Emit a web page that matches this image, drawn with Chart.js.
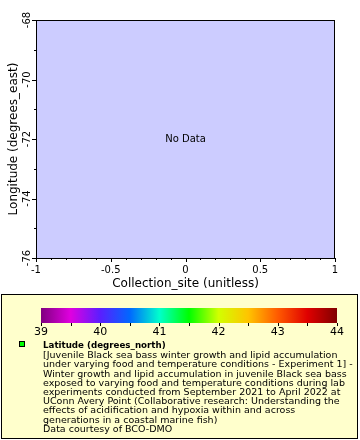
<!DOCTYPE html>
<html>
<head>
<meta charset="utf-8">
<script src="https://cdn.jsdelivr.net/npm/chart.js@4"></script>
<style>
  body { margin: 0; background: #fff; }
  #wrap { position: relative; width: 360px; height: 440px; overflow: hidden; }
  #main { position: absolute; left: 0; top: 0; }
  #legend {
    position: absolute; left: 1px; top: 294px; width: 357px; height: 145px;
    background: #ffffcc; border: 1px solid #000; box-sizing: border-box;
  }
  #cbar { position: absolute; left: -2px; top: 8px; }
  #swatch {
    position: absolute; left: 17px; top: 46px; width: 4px; height: 4px;
    background: #00ff00; border: 1px solid #000;
  }
  #ltext {
    position: absolute; left: 41px; top: 45px; margin: 0;
    font-family: "DejaVu Sans"; font-size: 9.5px; line-height: 9.2px;
    white-space: pre; color: #000;
  }
  #ltext b { font-weight: bold; font-size: 8.7px; }
</style>
</head>
<body>
<div id="wrap">
  <canvas id="main" width="360" height="295"></canvas>
  <div id="legend">
    <canvas id="cbar" width="360" height="46"></canvas>
    <div id="swatch"></div>
    <div id="ltext"></div>
  </div>
</div>
<script>
// axis ranges and ticks
const xRange = [-1, 1];
const xMajor = [-1, -0.5, 0, 0.5, 1];
const xMinorStep = 0.1;
const yRange = [-76, -68];
const yMajor = [-76, -74, -72, -70, -68];
const yMinorStep = 1;

// colour bar (Latitude, degrees_north)
const cbRange = [39, 44];
const cbTicks = [39, 40, 41, 42, 43, 44];
const cbStops = [39, 39.5, 40, 40.5, 41, 41.5, 42, 42.5, 43, 43.5, 44];
const cbColors = ['#800080', '#e000e0', '#5a1eff', '#0068ff', '#00ffcc', '#00ff00',
                  '#d2ff00', '#ffc400', '#ff5a00', '#e00000', '#800000'];

// no points in this dataset
const pts = [];

const legendLines = [
  '[Juvenile Black sea bass winter growth and lipid accumulation',
  'under varying food and temperature conditions - Experiment 1] -',
  'Winter growth and lipid accumulation in juvenile Black sea bass',
  'exposed to varying food and temperature conditions during lab',
  'experiments conducted from September 2021 to April 2022 at',
  'UConn Avery Point (Collaborative research: Understanding the',
  'effects of acidification and hypoxia within and across',
  'generations in a coastal marine fish)',
  'Data courtesy of BCO-DMO'
];

const lt = document.getElementById('ltext');
lt.innerHTML = '<b>Latitude (degrees_north)</b>\n' + legendLines.join('\n');

function range(a, b, step) {
  const out = [];
  for (let v = a; v <= b + 1e-9; v += step) out.push(+v.toFixed(6));
  return out;
}

const font = { family: 'DejaVu Sans', size: 10 };

const plotDeco = {
  id: 'plotDeco',
  beforeDraw(chart) {
    const { ctx, chartArea: a } = chart;
    ctx.save();
    ctx.fillStyle = '#ccccff';
    ctx.fillRect(a.left, a.top, a.right - a.left, a.bottom - a.top);
    ctx.restore();
  },
  afterDraw(chart) {
    const { ctx, chartArea: a, scales } = chart;
    ctx.save();
    ctx.strokeStyle = '#000';
    ctx.lineWidth = 1;
    ctx.strokeRect(a.left + 0.5, a.top + 0.5, a.right - a.left - 1, a.bottom - a.top);
    ctx.beginPath();
    range(xRange[0], xRange[1], xMinorStep).forEach(v => {
      const x = Math.round(scales.x.getPixelForValue(v)) + 0.5;
      ctx.moveTo(x, a.bottom); ctx.lineTo(x, a.bottom + 2);
    });
    xMajor.forEach(v => {
      const x = Math.round(scales.x.getPixelForValue(v)) + 0.5;
      ctx.moveTo(x, a.bottom); ctx.lineTo(x, a.bottom + 4);
    });
    range(yRange[0], yRange[1], yMinorStep).forEach(v => {
      const y = Math.round(scales.y.getPixelForValue(v)) + 0.5;
      ctx.moveTo(a.left, y); ctx.lineTo(a.left - 2, y);
    });
    yMajor.forEach(v => {
      const y = Math.round(scales.y.getPixelForValue(v)) + 0.5;
      ctx.moveTo(a.left, y); ctx.lineTo(a.left - 4, y);
    });
    ctx.stroke();

    // rotated y tick labels
    ctx.fillStyle = '#000';
    ctx.font = '10px "DejaVu Sans"';
    ctx.textAlign = 'center';
    ctx.textBaseline = 'middle';
    yMajor.forEach(v => {
      ctx.save();
      ctx.translate(a.left - 9, scales.y.getPixelForValue(v));
      ctx.rotate(-Math.PI / 2);
      ctx.fillText(String(v), 0, 0);
      ctx.restore();
    });

    if (!pts.length) {
      ctx.fillText('No Data', (a.left + a.right) / 2, (a.top + a.bottom) / 2);
    }
    ctx.restore();
  }
};

new Chart(document.getElementById('main'), {
  type: 'scatter',
  data: { datasets: [{ data: pts, backgroundColor: '#00ff00' }] },
  options: {
    responsive: false,
    animation: false,
    layout: { padding: { top: 20, right: 25, left: 0, bottom: 0 } },
    plugins: { legend: { display: false }, tooltip: { enabled: false } },
    scales: {
      x: {
        type: 'linear', min: xRange[0], max: xRange[1],
        afterBuildTicks: s => { s.ticks = xMajor.map(v => ({ value: v })); },
        afterFit: s => { s.height = 37; },
        grid: { display: false, drawTicks: false },
        border: { display: false },
        ticks: { font, color: '#000', padding: 6, maxRotation: 0,
                 callback: v => String(v) },
        title: { display: true, text: 'Collection_site (unitless)', color: '#000',
                 font: { family: 'DejaVu Sans', size: 12 }, padding: { top: 0 } }
      },
      y: {
        type: 'linear', min: yRange[0], max: yRange[1],
        afterBuildTicks: s => { s.ticks = yMajor.map(v => ({ value: v })); },
        afterFit: s => { s.width = 36; },
        grid: { display: false, drawTicks: false },
        border: { display: false },
        ticks: { display: false },
        title: { display: true, text: 'Longitude (degrees_east)', color: '#000',
                 font: { family: 'DejaVu Sans', size: 12 }, padding: { top: 7, bottom: 0 } }
      }
    }
  },
  plugins: [plotDeco]
});

const cbDeco = {
  id: 'cbDeco',
  beforeDraw(chart) {
    const { ctx, chartArea: a, scales } = chart;
    const g = ctx.createLinearGradient(a.left, 0, a.right, 0);
    cbStops.forEach((v, i) => {
      const p = (scales.x.getPixelForValue(v) - a.left) / (a.right - a.left);
      g.addColorStop(Math.min(1, Math.max(0, p)), cbColors[i]);
    });
    ctx.save();
    ctx.fillStyle = g;
    ctx.fillRect(a.left, a.top, a.right - a.left, a.bottom - a.top);
    ctx.strokeStyle = '#000';
    ctx.beginPath();
    range(cbRange[0], cbRange[1], 0.5).forEach(v => {
      const x = Math.round(scales.x.getPixelForValue(v)) + 0.5;
      ctx.moveTo(x, a.bottom); ctx.lineTo(x, a.bottom + 3);
    });
    ctx.stroke();
    ctx.restore();
  }
};

new Chart(document.getElementById('cbar'), {
  type: 'scatter',
  data: { datasets: [{ data: [] }] },
  options: {
    responsive: false,
    animation: false,
    layout: { padding: { top: 5, left: 41, right: 23, bottom: 0 } },
    plugins: { legend: { display: false }, tooltip: { enabled: false } },
    scales: {
      x: {
        type: 'linear', min: cbRange[0], max: cbRange[1],
        afterBuildTicks: s => { s.ticks = cbTicks.map(v => ({ value: v })); },
        afterFit: s => { s.height = 26; },
        grid: { display: false, drawTicks: false },
        border: { display: false },
        ticks: { font: { family: 'DejaVu Sans', size: 11 }, color: '#000', padding: 3, maxRotation: 0 }
      },
      y: { display: false, min: 0, max: 1 }
    }
  },
  plugins: [cbDeco]
});
</script>
</body>
</html>
